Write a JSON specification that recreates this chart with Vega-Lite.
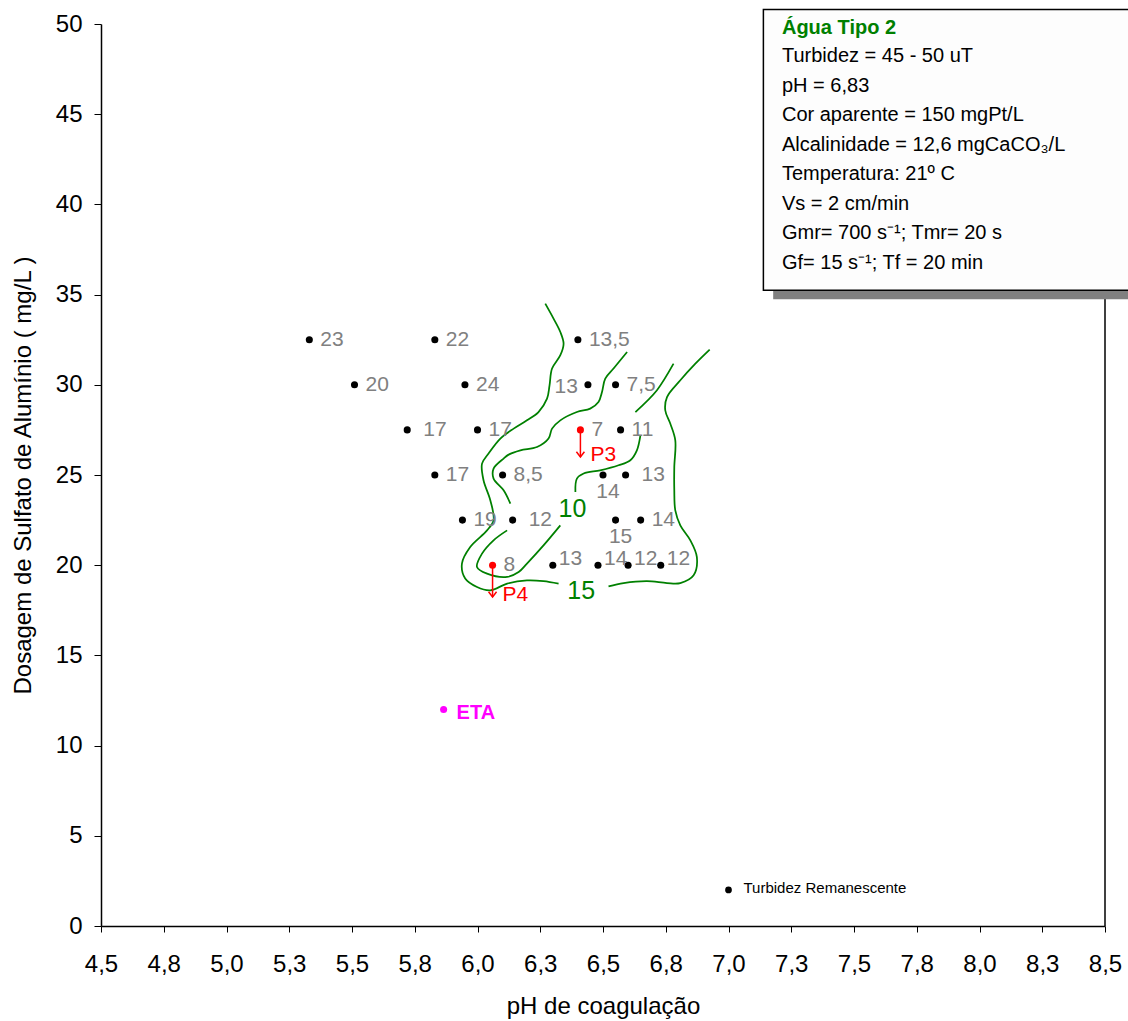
{
  "$schema": "https://vega.github.io/schema/vega-lite/v6.json",
  "width": 1004,
  "height": 902,
  "autosize": {"type": "none"},
  "padding": {"left": 101, "top": 24, "right": 23, "bottom": 95},
  "background": "white",
  "config": {
    "view": {"stroke": null},
    "font": "Liberation Sans",
    "locale": {"number": {"decimal": ",", "thousands": ".", "grouping": [3], "currency": ["R$ ", ""]}},
    "axis": {
      "grid": false,
      "domainColor": "black",
      "domainWidth": 1.5,
      "tickColor": "black",
      "tickWidth": 1,
      "labelFont": "Liberation Sans",
      "labelFontSize": 24,
      "labelColor": "black",
      "labelFlush": false,
      "labelOverlap": false,
      "titleFont": "Liberation Sans",
      "titleFontSize": 24,
      "titleFontWeight": "normal",
      "titleColor": "black"
    },
    "axisX": {"tickSize": 6, "labelPadding": 20, "titlePadding": 18},
    "axisY": {"tickSize": 7, "labelPadding": 12, "titlePadding": 20}
  },
  "datasets": {
    "ensaios": [
      {"ph": 5.33, "dose": 32.5, "turbidez": 23, "cor": "preto", "pos": "dir"},
      {"ph": 5.83, "dose": 32.5, "turbidez": 22, "cor": "preto", "pos": "dir"},
      {"ph": 5.51, "dose": 30, "turbidez": 20, "cor": "preto", "pos": "dir"},
      {"ph": 5.95, "dose": 30, "turbidez": 24, "cor": "preto", "pos": "dir"},
      {"ph": 5.72, "dose": 27.5, "turbidez": 17, "cor": "preto", "pos": "dirlonge"},
      {"ph": 6.0, "dose": 27.5, "turbidez": 17, "cor": "preto", "pos": "dir"},
      {"ph": 5.83, "dose": 25, "turbidez": 17, "cor": "preto", "pos": "dir"},
      {"ph": 6.1, "dose": 25, "turbidez": 8.5, "cor": "preto", "pos": "dir"},
      {"ph": 5.94, "dose": 22.5, "turbidez": 19, "cor": "preto", "pos": "dir"},
      {"ph": 6.14, "dose": 22.5, "turbidez": 12, "cor": "preto", "pos": "dirlonge"},
      {"ph": 6.06, "dose": 20, "turbidez": 8, "cor": "vermelho", "pos": "dir"},
      {"ph": 6.3, "dose": 20, "turbidez": 13, "cor": "preto", "pos": "sup"},
      {"ph": 6.48, "dose": 20, "turbidez": 14, "cor": "preto", "pos": "sup"},
      {"ph": 6.6, "dose": 20, "turbidez": 12, "cor": "preto", "pos": "sup"},
      {"ph": 6.73, "dose": 20, "turbidez": 12, "cor": "preto", "pos": "sup"},
      {"ph": 6.4, "dose": 32.5, "turbidez": 13.5, "cor": "preto", "pos": "dir"},
      {"ph": 6.44, "dose": 30, "turbidez": 13, "cor": "preto", "pos": "esq"},
      {"ph": 6.55, "dose": 30, "turbidez": 7.5, "cor": "preto", "pos": "dir"},
      {"ph": 6.41, "dose": 27.5, "turbidez": 7, "cor": "vermelho", "pos": "dir"},
      {"ph": 6.57, "dose": 27.5, "turbidez": 11, "cor": "preto", "pos": "dir"},
      {"ph": 6.5, "dose": 25, "turbidez": 14, "cor": "preto", "pos": "abaixo"},
      {"ph": 6.59, "dose": 25, "turbidez": 13, "cor": "preto", "pos": "dirlonge"},
      {"ph": 6.55, "dose": 22.5, "turbidez": 15, "cor": "preto", "pos": "abaixo"},
      {"ph": 6.65, "dose": 22.5, "turbidez": 14, "cor": "preto", "pos": "dir"}
    ],
    "isolinhas": [
      {"c": "15a", "i": 1, "ph": 6.270, "dose": 34.50},
      {"c": "15a", "i": 2, "ph": 6.303, "dose": 33.67},
      {"c": "15a", "i": 3, "ph": 6.330, "dose": 32.93},
      {"c": "15a", "i": 4, "ph": 6.343, "dose": 32.28},
      {"c": "15a", "i": 5, "ph": 6.330, "dose": 31.64},
      {"c": "15a", "i": 6, "ph": 6.297, "dose": 30.90},
      {"c": "15a", "i": 7, "ph": 6.287, "dose": 29.97},
      {"c": "15a", "i": 8, "ph": 6.277, "dose": 29.23},
      {"c": "15a", "i": 9, "ph": 6.243, "dose": 28.49},
      {"c": "15a", "i": 10, "ph": 6.197, "dose": 28.03},
      {"c": "15a", "i": 11, "ph": 6.144, "dose": 27.57},
      {"c": "15a", "i": 12, "ph": 6.091, "dose": 27.02},
      {"c": "15a", "i": 13, "ph": 6.044, "dose": 26.19},
      {"c": "15a", "i": 14, "ph": 6.018, "dose": 25.63},
      {"c": "15a", "i": 15, "ph": 6.024, "dose": 24.71},
      {"c": "15a", "i": 16, "ph": 6.051, "dose": 23.60},
      {"c": "15a", "i": 17, "ph": 6.064, "dose": 22.49},
      {"c": "15a", "i": 18, "ph": 6.038, "dose": 21.93},
      {"c": "15a", "i": 19, "ph": 5.971, "dose": 21.01},
      {"c": "15a", "i": 20, "ph": 5.938, "dose": 20.09},
      {"c": "15a", "i": 21, "ph": 5.951, "dose": 19.26},
      {"c": "15a", "i": 22, "ph": 5.998, "dose": 18.79},
      {"c": "15a", "i": 23, "ph": 6.051, "dose": 18.61},
      {"c": "15a", "i": 24, "ph": 6.118, "dose": 18.98},
      {"c": "15a", "i": 25, "ph": 6.197, "dose": 19.16},
      {"c": "15a", "i": 26, "ph": 6.263, "dose": 19.12},
      {"c": "15a", "i": 27, "ph": 6.323, "dose": 18.98},
      {"c": "15b", "i": 1, "ph": 6.522, "dose": 18.83},
      {"c": "15b", "i": 2, "ph": 6.582, "dose": 19.01},
      {"c": "15b", "i": 3, "ph": 6.675, "dose": 19.12},
      {"c": "15b", "i": 4, "ph": 6.755, "dose": 19.01},
      {"c": "15b", "i": 5, "ph": 6.808, "dose": 19.01},
      {"c": "15b", "i": 6, "ph": 6.861, "dose": 19.44},
      {"c": "15b", "i": 7, "ph": 6.874, "dose": 20.45},
      {"c": "15b", "i": 8, "ph": 6.848, "dose": 21.38},
      {"c": "15b", "i": 9, "ph": 6.808, "dose": 22.21},
      {"c": "15b", "i": 10, "ph": 6.788, "dose": 23.04},
      {"c": "15b", "i": 11, "ph": 6.784, "dose": 24.15},
      {"c": "15b", "i": 12, "ph": 6.784, "dose": 25.44},
      {"c": "15b", "i": 13, "ph": 6.788, "dose": 26.92},
      {"c": "15b", "i": 14, "ph": 6.768, "dose": 27.85},
      {"c": "15b", "i": 15, "ph": 6.748, "dose": 28.59},
      {"c": "15b", "i": 16, "ph": 6.755, "dose": 29.32},
      {"c": "15b", "i": 17, "ph": 6.808, "dose": 30.25},
      {"c": "15b", "i": 18, "ph": 6.868, "dose": 31.17},
      {"c": "15b", "i": 19, "ph": 6.925, "dose": 31.95},
      {"c": "10a", "i": 1, "ph": 6.596, "dose": 31.82},
      {"c": "10a", "i": 2, "ph": 6.542, "dose": 30.90},
      {"c": "10a", "i": 3, "ph": 6.509, "dose": 30.34},
      {"c": "10a", "i": 4, "ph": 6.496, "dose": 29.60},
      {"c": "10a", "i": 5, "ph": 6.482, "dose": 29.05},
      {"c": "10a", "i": 6, "ph": 6.449, "dose": 28.68},
      {"c": "10a", "i": 7, "ph": 6.396, "dose": 28.49},
      {"c": "10a", "i": 8, "ph": 6.330, "dose": 28.03},
      {"c": "10a", "i": 9, "ph": 6.297, "dose": 27.57},
      {"c": "10a", "i": 10, "ph": 6.283, "dose": 27.02},
      {"c": "10a", "i": 11, "ph": 6.237, "dose": 26.55},
      {"c": "10a", "i": 12, "ph": 6.171, "dose": 26.37},
      {"c": "10a", "i": 13, "ph": 6.124, "dose": 26.13},
      {"c": "10a", "i": 14, "ph": 6.104, "dose": 25.91},
      {"c": "10a", "i": 15, "ph": 6.064, "dose": 25.35},
      {"c": "10a", "i": 16, "ph": 6.064, "dose": 24.80},
      {"c": "10a", "i": 17, "ph": 6.104, "dose": 24.15},
      {"c": "10a", "i": 18, "ph": 6.131, "dose": 23.41},
      {"c": "10b", "i": 1, "ph": 6.118, "dose": 21.93},
      {"c": "10b", "i": 2, "ph": 6.064, "dose": 21.38},
      {"c": "10b", "i": 3, "ph": 6.018, "dose": 20.64},
      {"c": "10b", "i": 4, "ph": 5.998, "dose": 19.90},
      {"c": "10b", "i": 5, "ph": 6.038, "dose": 19.53},
      {"c": "10b", "i": 6, "ph": 6.118, "dose": 19.35},
      {"c": "10b", "i": 7, "ph": 6.164, "dose": 19.62},
      {"c": "10b", "i": 8, "ph": 6.197, "dose": 20.09},
      {"c": "10b", "i": 9, "ph": 6.263, "dose": 21.10},
      {"c": "10b", "i": 10, "ph": 6.330, "dose": 22.21},
      {"c": "10c", "i": 1, "ph": 6.390, "dose": 24.06},
      {"c": "10c", "i": 2, "ph": 6.396, "dose": 24.80},
      {"c": "10c", "i": 3, "ph": 6.423, "dose": 25.08},
      {"c": "10c", "i": 4, "ph": 6.489, "dose": 25.26},
      {"c": "10c", "i": 5, "ph": 6.562, "dose": 25.54},
      {"c": "10c", "i": 6, "ph": 6.609, "dose": 25.82},
      {"c": "10c", "i": 7, "ph": 6.635, "dose": 26.37},
      {"c": "10c", "i": 8, "ph": 6.649, "dose": 27.20},
      {"c": "10d", "i": 1, "ph": 6.629, "dose": 28.49},
      {"c": "10d", "i": 2, "ph": 6.715, "dose": 29.70},
      {"c": "10d", "i": 3, "ph": 6.781, "dose": 31.17}
    ],
    "rotulosIsolinhas": [
      {"ph": 6.378, "dose": 23.1, "nivel": "10"},
      {"ph": 6.413, "dose": 18.55, "nivel": "15"}
    ],
    "setas": [
      {"ponto": "P3", "ph": 6.41, "dose": 27.5, "doseFim": 26.0},
      {"ponto": "P4", "ph": 6.06, "dose": 20, "doseFim": 18.24}
    ],
    "eta": [{"ph": 5.865, "dose": 12, "nome": "ETA"}],
    "legenda": [{"ph": 7.0, "dose": 2, "nome": "Turbidez Remanescente"}]
  },
  "layer": [
    {
      "data": {"values": [{}]},
      "mark": {"type": "rule", "color": "black", "strokeWidth": 1.5},
      "encoding": {
        "x": {
          "datum": 8.5,
          "type": "quantitative",
          "title": "pH de coagulação",
          "scale": {"domain": [4.5, 8.5], "nice": false, "zero": false},
          "axis": {
            "values": [4.5, 4.75, 5, 5.25, 5.5, 5.75, 6, 6.25, 6.5, 6.75, 7, 7.25, 7.5, 7.75, 8, 8.25, 8.5],
            "format": ".1f"
          }
        },
        "y": {
          "datum": 0,
          "type": "quantitative",
          "title": "Dosagem de Sulfato de Alumínio ( mg/L )",
          "scale": {"domain": [0, 50], "nice": false},
          "axis": {"values": [0, 5, 10, 15, 20, 25, 30, 35, 40, 45, 50]}
        },
        "y2": {"datum": 50}
      }
    },
    {
      "data": {"name": "isolinhas"},
      "mark": {"type": "line", "interpolate": "catmull-rom", "color": "#008000", "strokeWidth": 1.75},
      "encoding": {
        "x": {"field": "ph", "type": "quantitative", "title": "pH de coagulação"},
        "y": {"field": "dose", "type": "quantitative", "title": "Dosagem de Sulfato de Alumínio ( mg/L )"},
        "detail": {"field": "c"},
        "order": {"field": "i", "type": "quantitative"}
      }
    },
    {
      "data": {"name": "rotulosIsolinhas"},
      "mark": {"type": "text", "font": "Liberation Sans", "fontSize": 25, "color": "#008000", "align": "center", "baseline": "middle"},
      "encoding": {
        "x": {"field": "ph", "type": "quantitative", "title": "pH de coagulação"},
        "y": {"field": "dose", "type": "quantitative", "title": "Dosagem de Sulfato de Alumínio ( mg/L )"},
        "text": {"field": "nivel"}
      }
    },
    {
      "data": {"name": "setas"},
      "mark": {"type": "rule", "color": "#ff0000", "strokeWidth": 1.5},
      "encoding": {
        "x": {"field": "ph", "type": "quantitative", "title": "pH de coagulação"},
        "y": {"field": "dose", "type": "quantitative", "title": "Dosagem de Sulfato de Alumínio ( mg/L )"},
        "y2": {"field": "doseFim"}
      }
    },
    {
      "data": {"name": "setas"},
      "mark": {"type": "point", "shape": "M-1,-1.3L0,0L1,-1.3", "filled": false, "color": "#ff0000", "strokeWidth": 1.5, "size": 64, "opacity": 1},
      "encoding": {
        "x": {"field": "ph", "type": "quantitative", "title": "pH de coagulação"},
        "y": {"field": "doseFim", "type": "quantitative", "title": "Dosagem de Sulfato de Alumínio ( mg/L )"}
      }
    },
    {
      "data": {"name": "setas"},
      "mark": {"type": "text", "font": "Liberation Sans", "fontSize": 21, "color": "#ff0000", "align": "left", "baseline": "middle", "dx": 10, "dy": -2},
      "encoding": {
        "x": {"field": "ph", "type": "quantitative", "title": "pH de coagulação"},
        "y": {"field": "doseFim", "type": "quantitative", "title": "Dosagem de Sulfato de Alumínio ( mg/L )"},
        "text": {"field": "ponto"}
      }
    },
    {
      "data": {"name": "ensaios"},
      "mark": {"type": "point", "filled": true, "size": 50, "opacity": 1},
      "encoding": {
        "x": {"field": "ph", "type": "quantitative", "title": "pH de coagulação"},
        "y": {"field": "dose", "type": "quantitative", "title": "Dosagem de Sulfato de Alumínio ( mg/L )"},
        "color": {"field": "cor", "type": "nominal", "scale": {"domain": ["preto", "vermelho"], "range": ["#000000", "#ff0000"]}, "legend": null}
      }
    },
    {
      "data": {"name": "ensaios"},
      "transform": [{"filter": "datum.pos === 'dir'"}],
      "mark": {"type": "text", "font": "Liberation Sans", "fontSize": 21, "color": "#808080", "align": "left", "baseline": "middle", "dx": 11},
      "encoding": {
        "x": {"field": "ph", "type": "quantitative", "title": "pH de coagulação"},
        "y": {"field": "dose", "type": "quantitative", "title": "Dosagem de Sulfato de Alumínio ( mg/L )"},
        "text": {"field": "turbidez", "type": "quantitative", "format": ".1~f"}
      }
    },
    {
      "data": {"name": "ensaios"},
      "transform": [{"filter": "datum.pos === 'dirlonge'"}],
      "mark": {"type": "text", "font": "Liberation Sans", "fontSize": 21, "color": "#808080", "align": "left", "baseline": "middle", "dx": 16},
      "encoding": {
        "x": {"field": "ph", "type": "quantitative", "title": "pH de coagulação"},
        "y": {"field": "dose", "type": "quantitative", "title": "Dosagem de Sulfato de Alumínio ( mg/L )"},
        "text": {"field": "turbidez", "type": "quantitative", "format": ".1~f"}
      }
    },
    {
      "data": {"name": "ensaios"},
      "transform": [{"filter": "datum.pos === 'esq'"}],
      "mark": {"type": "text", "font": "Liberation Sans", "fontSize": 21, "color": "#808080", "align": "right", "baseline": "middle", "dx": -10, "dy": 2},
      "encoding": {
        "x": {"field": "ph", "type": "quantitative", "title": "pH de coagulação"},
        "y": {"field": "dose", "type": "quantitative", "title": "Dosagem de Sulfato de Alumínio ( mg/L )"},
        "text": {"field": "turbidez", "type": "quantitative", "format": ".1~f"}
      }
    },
    {
      "data": {"name": "ensaios"},
      "transform": [{"filter": "datum.pos === 'abaixo'"}],
      "mark": {"type": "text", "font": "Liberation Sans", "fontSize": 21, "color": "#808080", "align": "center", "baseline": "middle", "dx": 5, "dy": 17},
      "encoding": {
        "x": {"field": "ph", "type": "quantitative", "title": "pH de coagulação"},
        "y": {"field": "dose", "type": "quantitative", "title": "Dosagem de Sulfato de Alumínio ( mg/L )"},
        "text": {"field": "turbidez", "type": "quantitative", "format": ".1~f"}
      }
    },
    {
      "data": {"name": "ensaios"},
      "transform": [{"filter": "datum.pos === 'sup'"}],
      "mark": {"type": "text", "font": "Liberation Sans", "fontSize": 21, "color": "#808080", "align": "left", "baseline": "middle", "dx": 6, "dy": -6},
      "encoding": {
        "x": {"field": "ph", "type": "quantitative", "title": "pH de coagulação"},
        "y": {"field": "dose", "type": "quantitative", "title": "Dosagem de Sulfato de Alumínio ( mg/L )"},
        "text": {"field": "turbidez", "type": "quantitative", "format": ".1~f"}
      }
    },
    {
      "data": {"name": "eta"},
      "mark": {"type": "point", "filled": true, "size": 50, "color": "#ff00ff", "opacity": 1},
      "encoding": {
        "x": {"field": "ph", "type": "quantitative", "title": "pH de coagulação"},
        "y": {"field": "dose", "type": "quantitative", "title": "Dosagem de Sulfato de Alumínio ( mg/L )"}
      }
    },
    {
      "data": {"name": "eta"},
      "mark": {"type": "text", "font": "Liberation Sans", "fontSize": 20, "fontWeight": "bold", "color": "#ff00ff", "align": "left", "baseline": "middle", "dx": 13, "dy": 3},
      "encoding": {
        "x": {"field": "ph", "type": "quantitative", "title": "pH de coagulação"},
        "y": {"field": "dose", "type": "quantitative", "title": "Dosagem de Sulfato de Alumínio ( mg/L )"},
        "text": {"field": "nome"}
      }
    },
    {
      "data": {"name": "legenda"},
      "mark": {"type": "point", "filled": true, "size": 45, "color": "#000000", "opacity": 1},
      "encoding": {
        "x": {"field": "ph", "type": "quantitative", "title": "pH de coagulação"},
        "y": {"field": "dose", "type": "quantitative", "title": "Dosagem de Sulfato de Alumínio ( mg/L )"}
      }
    },
    {
      "data": {"name": "legenda"},
      "mark": {"type": "text", "font": "Liberation Sans", "fontSize": 15, "color": "#000000", "align": "left", "baseline": "middle", "dx": 15, "dy": -2},
      "encoding": {
        "x": {"field": "ph", "type": "quantitative", "title": "pH de coagulação"},
        "y": {"field": "dose", "type": "quantitative", "title": "Dosagem de Sulfato de Alumínio ( mg/L )"},
        "text": {"field": "nome"}
      }
    },
    {
      "data": {"values": [{}]},
      "mark": {"type": "rect", "color": "#808080", "opacity": 1},
      "encoding": {
        "x": {"datum": 7.178, "type": "quantitative", "title": "pH de coagulação"},
        "x2": {"datum": 8.8},
        "y": {"datum": 34.74, "type": "quantitative", "title": "Dosagem de Sulfato de Alumínio ( mg/L )"},
        "y2": {"datum": 50.3}
      }
    },
    {
      "data": {"values": [{}]},
      "mark": {"type": "rect", "fill": "#fdfdfd", "stroke": "#000000", "strokeWidth": 1.5, "opacity": 1},
      "encoding": {
        "x": {"datum": 7.139, "type": "quantitative", "title": "pH de coagulação"},
        "x2": {"datum": 8.8},
        "y": {"datum": 35.24, "type": "quantitative", "title": "Dosagem de Sulfato de Alumínio ( mg/L )"},
        "y2": {"datum": 50.81}
      }
    },
    {
      "data": {"values": [{}]},
      "mark": {"type": "text", "text": "Água Tipo 2", "font": "Liberation Sans", "fontSize": 20, "fontWeight": "bold", "color": "#008000", "align": "left", "baseline": "alphabetic"},
      "encoding": {
        "x": {"datum": 7.213, "type": "quantitative", "title": "pH de coagulação"},
        "y": {"datum": 49.47, "type": "quantitative", "title": "Dosagem de Sulfato de Alumínio ( mg/L )"}
      }
    },
    {
      "data": {"values": [{}]},
      "mark": {
        "type": "text",
        "text": ["Turbidez = 45 - 50 uT", "\u2009pH = 6,83", "Cor aparente = 150 mgPt/L", "Alcalinidade = 12,6 mgCaCO₃/L", "Temperatura: 21º C", "Vs = 2 cm/min", "Gmr= 700 s⁻¹; Tmr= 20 s", "Gf= 15 s⁻¹; Tf = 20 min"],
        "font": "Liberation Sans",
        "fontSize": 20,
        "lineHeight": 29.5,
        "color": "#000000",
        "align": "left",
        "baseline": "alphabetic"
      },
      "encoding": {
        "x": {"datum": 7.213, "type": "quantitative", "title": "pH de coagulação"},
        "y": {"datum": 47.89, "type": "quantitative", "title": "Dosagem de Sulfato de Alumínio ( mg/L )"}
      }
    }
  ]
}
